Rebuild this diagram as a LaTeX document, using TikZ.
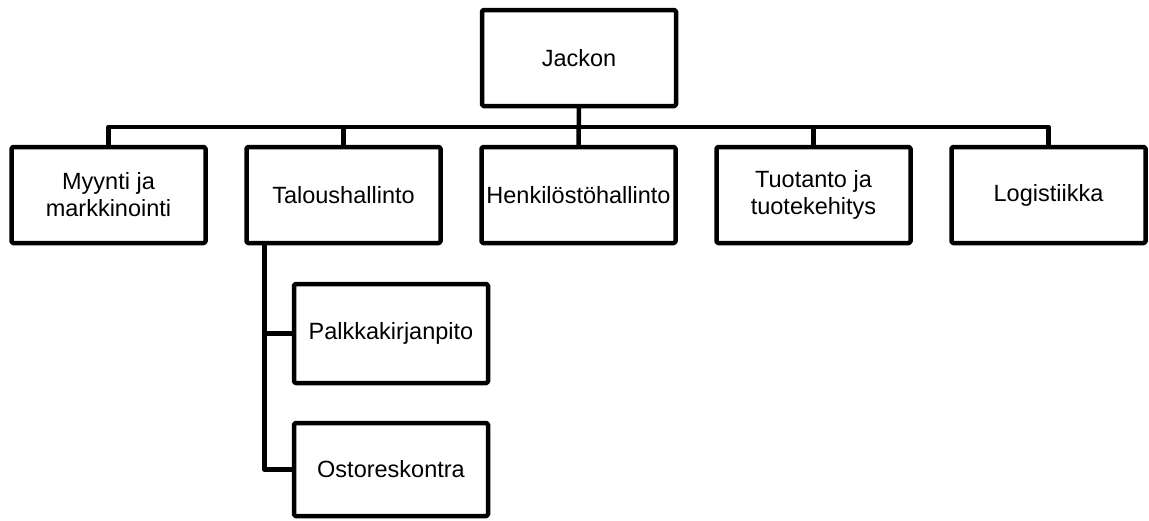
\documentclass[tikz,border=0pt]{standalone}
\usepackage{fontspec}
\setmainfont{Liberation Sans}
\usetikzlibrary{positioning}

\begin{document}
\begin{tikzpicture}[x=1pt,y=-1pt,line width=4.5pt,line join=round,
        font=\fontsize{23.5}{27}\selectfont,
        unit node/.style={draw,rectangle,rounded corners=1.5pt,minimum width=194pt,minimum height=96pt,
        inner sep=0pt,outer sep=0pt,align=center}]
        \useasboundingbox (0,0) rectangle (1149,520);
        \node[unit node] (top) at (579,58) {Jackon};
        \node[unit node] (myynti) at (108.5,195) {Myynti ja\\markkinointi};
        \node[unit node,right=41pt of myynti](talous){Taloushallinto};
        \node[unit node,right=41pt of talous](henk){Henkilöstöhallinto};
        \node[unit node,right=41pt of henk](tuot){Tuotanto ja\\tuotekehitys};
        \node[unit node,right=41pt of tuot](logi){Logistiikka};
        \node[unit node,minimum height=99pt] (palkka) at (391,333.5) {Palkkakirjanpito};
        \node[unit node,minimum height=93pt] (osto) at (391,469.5) {Ostoreskontra};

        \coordinate (bar) at (579,127);
        \coordinate (trunk) at ([xshift=18pt]talous.south west);

        \draw (top.south) -- (henk.north);
        \draw (myynti.north) |- (bar) -| (logi.north);
        \draw (talous.north) -- (talous.north |- bar);
        \draw (tuot.north) -- (tuot.north |- bar);
        \draw (trunk) |- (osto.west);
        \draw (trunk |- palkka.west) -- (palkka.west);
    \end{tikzpicture}
\end{document}
